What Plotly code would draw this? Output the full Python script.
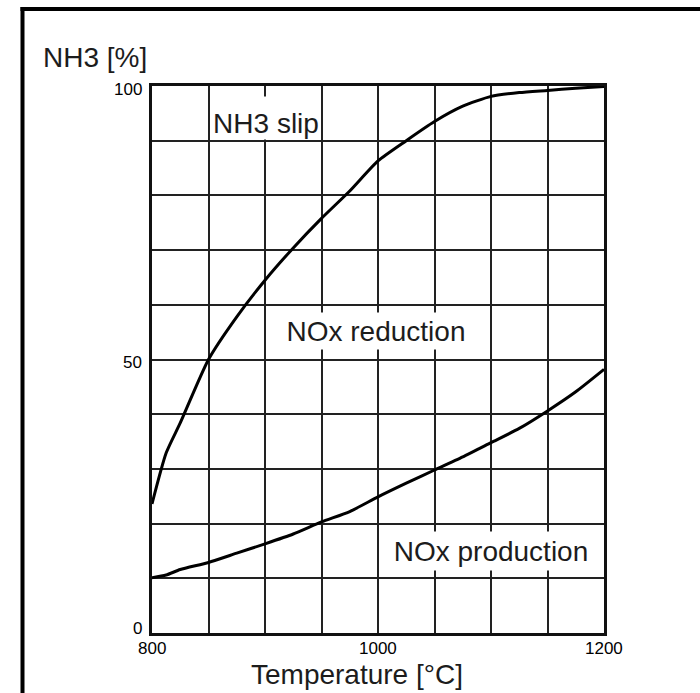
import plotly.graph_objects as go

# ---------------- data ----------------
temperature = [800, 812.5, 825, 850, 875, 900, 925, 950, 975, 1000,
               1025, 1050, 1075, 1100, 1125, 1150, 1175, 1200]
nox_reduction = [23.6, 32.9, 38.4, 50.0, 57.8, 64.5, 70.4, 75.8, 80.8, 86.3,
                 90.0, 93.5, 96.3, 98.1, 98.8, 99.2, 99.6, 99.9]
nox_production = [10.1, 10.6, 11.6, 12.9, 14.6, 16.3, 18.1, 20.3, 22.2, 24.9,
                  27.4, 29.8, 32.2, 34.8, 37.4, 40.6, 44.1, 48.2]

x_tick_values = [800, 1000, 1200]
x_tick_labels = ["800", "1000", "1200"]
y_tick_values = [0, 50, 100]
y_tick_labels = ["0", "50", "100"]

y_title = "NH3 [%]"
x_title = "Temperature [°C]"
region_labels = ["NH3 slip", "NOx reduction", "NOx production"]
region_label_pos = [(901, 94.2), (998, 55.2), (1100, 15.0)]

# ---------------- layout / style ----------------
W, H = 700, 693
ML, MR, MT, MB = 152, 96, 86, 60
PW, PH = W - ML - MR, H - MT - MB
FONT = "Liberation Sans, Arial, Helvetica, sans-serif"
TXT = "#1c1c1c"
LABEL_SIZE = 28
TICK_SIZE = 17

def px_x(px):
    return (px - ML) / PW

def px_y(py):
    return (H - MB - py) / PH

# label box sizes (width, height, valign)
label_boxes = [(108, 42, "bottom"), (188, 36, "middle"), (200, 38, "middle")]
y_tick_shift = [5, -3, -3.5]

fig = go.Figure()
for vals in (nox_reduction, nox_production):
    fig.add_trace(go.Scatter(
        x=temperature, y=vals, mode="lines",
        line=dict(color="#000000", width=3, shape="spline", smoothing=0.6),
        hoverinfo="skip", showlegend=False))

annotations = []
for txt, (xv, yv), (bw, bh, va) in zip(region_labels, region_label_pos, label_boxes):
    annotations.append(dict(
        x=xv, y=yv, xref="x", yref="y", text=txt, showarrow=False,
        xanchor="center", yanchor="middle", width=bw, height=bh, valign=va,
        bgcolor="#ffffff", borderpad=0,
        font=dict(family=FONT, size=LABEL_SIZE, color=TXT)))

for v, t, s in zip(y_tick_values, y_tick_labels, y_tick_shift):
    annotations.append(dict(
        x=0, y=v, xref="paper", yref="y", text=t, showarrow=False,
        xanchor="right", yanchor="middle", xshift=-8, yshift=s,
        font=dict(family=FONT, size=TICK_SIZE, color="#000000")))

for v, t in zip(x_tick_values, x_tick_labels):
    annotations.append(dict(
        x=v, y=0, xref="x", yref="paper", text=t, showarrow=False,
        xanchor="center", yanchor="middle", yshift=-15,
        font=dict(family=FONT, size=TICK_SIZE, color="#000000")))

annotations.append(dict(
    x=px_x(94.5), y=px_y(57.5), xref="paper", yref="paper", text=y_title,
    showarrow=False, xanchor="center", yanchor="middle",
    font=dict(family=FONT, size=LABEL_SIZE, color=TXT)))
annotations.append(dict(
    x=px_x(356.5), y=px_y(674), xref="paper", yref="paper", text=x_title,
    showarrow=False, xanchor="center", yanchor="middle",
    font=dict(family=FONT, size=LABEL_SIZE, color=TXT)))

shapes = [
    dict(type="line", xref="paper", yref="paper",
         x0=px_x(22.5), x1=px_x(22.5), y0=px_y(7), y1=px_y(H + 10),
         line=dict(color="#000000", width=4)),
    dict(type="line", xref="paper", yref="paper",
         x0=px_x(20.5), x1=px_x(W + 10), y0=px_y(9), y1=px_y(9),
         line=dict(color="#000000", width=4)),
]

axis_common = dict(
    showgrid=True, gridcolor="#222222", gridwidth=2,
    showline=True, linecolor="#111111", linewidth=3, mirror=True,
    zeroline=False, showticklabels=False, ticks="", fixedrange=True)

fig.update_layout(
    width=W, height=H,
    margin=dict(l=ML, r=MR, t=MT, b=MB, pad=0),
    paper_bgcolor="#ffffff", plot_bgcolor="#ffffff",
    xaxis=dict(range=[800, 1200], dtick=50, tick0=800, **axis_common),
    yaxis=dict(range=[0, 100], dtick=10, tick0=0, **axis_common),
    annotations=annotations, shapes=shapes,
    showlegend=False)

fig.write_html("out.html", config={"displayModeBar": False})
